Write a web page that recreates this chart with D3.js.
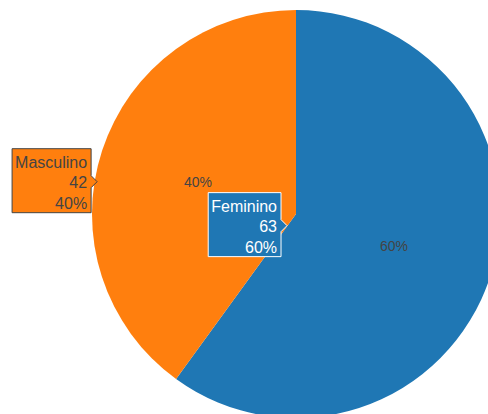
<!DOCTYPE html>
<html>
<head>
<meta charset="utf-8">
<script src="https://cdn.jsdelivr.net/npm/d3@7"></script>
<style>
  html, body { margin: 0; padding: 0; background: #fff; }
  svg { display: block; }
  text { font-family: Arial, "Liberation Sans", sans-serif; }
</style>
</head>
<body>
<svg id="chart" width="488" height="414"></svg>
<script>
// ---- data ----
const categories = ["Feminino", "Masculino"];
const values = [63, 42];
const colors = ["#1f77b4", "#ff7f0e"];
const hoverTextColors = ["#ffffff", "#444444"];

// ---- layout ----
const W = 488, H = 414;
const cx = 296, cy = 214, R = 204;
const svg = d3.select("#chart");
const total = d3.sum(values);
const fmtPct = v => Math.round(v / total * 100) + "%";

const pie = d3.pie().sort(null).value(d => d.value).startAngle(0).endAngle(2 * Math.PI);
const data = categories.map((c, i) => ({ label: c, value: values[i], color: colors[i], tc: hoverTextColors[i] }));
const arcs = pie(data);

const arc = d3.arc().innerRadius(0).outerRadius(R);
const labelArc = d3.arc().innerRadius(R * 0.505).outerRadius(R * 0.505);

const g = svg.append("g").attr("transform", `translate(${cx},${cy})`);

g.selectAll("path.slice").data(arcs).enter().append("path")
  .attr("class", "slice")
  .attr("d", arc)
  .attr("fill", d => d.data.color);

g.selectAll("text.pct").data(arcs).enter().append("text")
  .attr("class", "pct")
  .attr("transform", d => `translate(${labelArc.centroid(d)})`)
  .attr("text-anchor", "middle")
  .attr("dy", "0.36em")
  .attr("font-size", 14)
  .attr("fill", "#444")
  .text(d => fmtPct(d.data.value));

// ---- hover-style labels ----
function hoverAnchor(d) {
  const mid = (d.startAngle + d.endAngle) / 2;
  const px = Math.sin(mid) * R, py = -Math.cos(mid) * R;
  const half = (d.endAngle - d.startAngle) / 2;
  const rIn = Math.min(1 / (1 + 1 / Math.sin(half)), 0.5);
  if (d.data.label === "Masculino") {
    return [cx + px * (1 - rIn) - rIn * R, cy + py * (1 - rIn)];
  }
  return [cx - R * 0.044, cy + R * 0.057];
}

const fontSize = 16, lineH = 20.5, pad = 3, arrow = 6, boxH = 64;
arcs.slice().reverse().forEach(d => {
  const [tx, ty] = hoverAnchor(d);
  const lines = [d.data.label, String(d.data.value), fmtPct(d.data.value)];
  const hg = svg.append("g");
  const path = hg.append("path");
  const texts = lines.map(t => hg.append("text")
    .attr("font-size", fontSize)
    .attr("fill", d.data.tc)
    .attr("text-anchor", "end")
    .text(t));
  const w = d3.max(texts, t => t.node().getComputedTextLength()) + 2 * pad + 1;
  const right = tx - arrow;
  const top = ty - 1 - boxH / 2;
  texts.forEach((t, k) => t.attr("x", right - pad - 1).attr("y", top + 19 + k * lineH));
  const p = `M${tx},${ty}L${right},${ty - arrow}V${top}H${right - w}V${top + boxH}H${right}V${ty + arrow}Z`;
  path.attr("d", p)
    .attr("fill", d.data.color)
    .attr("stroke", d.data.tc)
    .attr("stroke-width", 1);
});
</script>
</body>
</html>
